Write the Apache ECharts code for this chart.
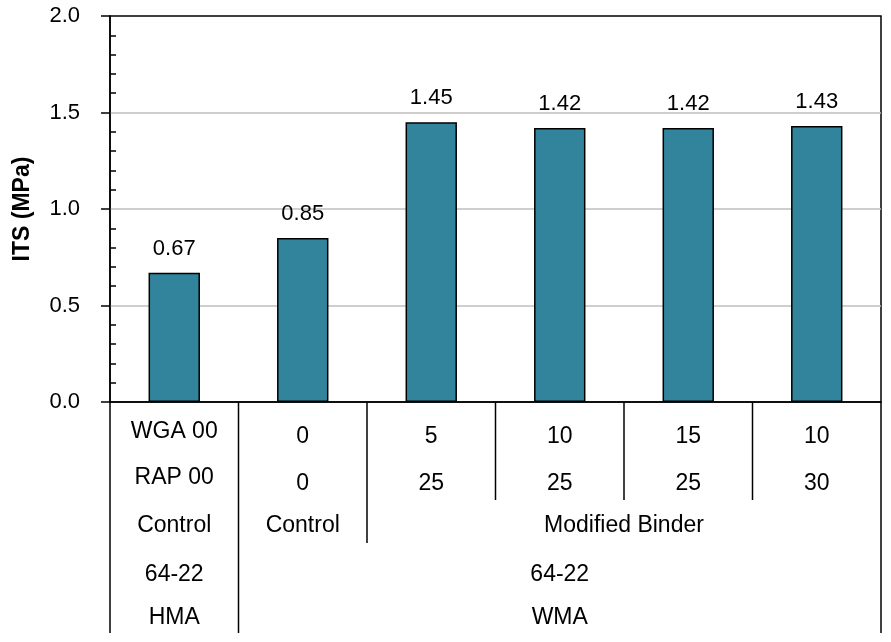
<!DOCTYPE html>
<html>
<head>
<meta charset="utf-8">
<script src="https://cdn.jsdelivr.net/npm/echarts@6/dist/echarts.min.js"></script>
<style>
html,body{margin:0;padding:0;background:#fff;}
#chart{width:891px;height:642px;}
</style>
</head>
<body>
<div id="chart"></div>
<script>
// ---- data ----
const categories = ['HMA Control', 'WMA Control', 'WGA5 RAP25', 'WGA10 RAP25', 'WGA15 RAP25', 'WGA10 RAP30'];
const itsValues = [0.67, 0.85, 1.45, 1.42, 1.42, 1.43];
const wgaLabels = ['WGA 00', '0', '5', '10', '15', '10'];
const rapLabels = ['RAP 00', '0', '25', '25', '25', '30'];
const binderGroups = [['Control', 0, 0], ['Control', 1, 1], ['Modified Binder', 2, 5]];
const gradeGroups = [['64-22', 0, 0], ['64-22', 1, 5]];
const mixGroups = [['HMA', 0, 0], ['WMA', 1, 5]];
const yMin = 0, yMax = 2, yInterval = 0.5;

const FONT = 'Liberation Sans, Arial, sans-serif';
const chart = echarts.init(document.getElementById('chart'), null, {renderer: 'canvas'});

const option = {
  animation: false,
  backgroundColor: '#fff',
  textStyle: {fontFamily: FONT},
  grid: {left: 110, right: 10, top: 16, bottom: 240, containLabel: false,
         show: true, borderColor: '#000', borderWidth: 1.5, backgroundColor: 'transparent'},
  xAxis: [{
    type: 'category', data: categories,
    axisLabel: {show: false}, axisTick: {show: false},
    axisLine: {show: true, lineStyle: {color: '#000', width: 1.5}}
  }],
  yAxis: [{
    type: 'value', min: yMin, max: yMax, interval: yInterval, position: 'left',
    name: 'ITS (MPa)', nameLocation: 'middle', nameGap: 76,
    nameTextStyle: {fontWeight: 'bold', fontSize: 23, color: '#000', fontFamily: FONT},
    axisLine: {show: true, lineStyle: {color: '#000', width: 1.5}},
    axisTick: {show: true, length: 9, lineStyle: {color: '#000', width: 1.5}},
    axisLabel: {formatter: v => v.toFixed(1), margin: 30, fontSize: 22, color: '#000', fontFamily: FONT},
    splitLine: {show: true, showMinLine: false, showMaxLine: false, lineStyle: {color: '#bfbfbf', width: 1.5}}
  }, {
    type: 'value', min: yMin, max: yMax, interval: yInterval, position: 'left',
    axisLine: {show: false}, axisTick: {show: false, inside: true},
    axisLabel: {show: false}, splitLine: {show: false},
    minorTick: {show: true, splitNumber: 5, length: 6, lineStyle: {color: '#000', width: 1.5}}
  }],
  series: [{
    type: 'bar', data: itsValues, barWidth: '40%',
    itemStyle: {color: '#31849b', borderColor: '#000', borderWidth: 1.5},
    label: {show: true, position: 'top', distance: 13, fontSize: 22, color: '#000',
            fontFamily: FONT, formatter: p => p.value.toFixed(2)}
  }]
};
chart.setOption(option);

// ---- category table below the axis, positioned from the axis scale ----
const cx = i => chart.convertToPixel({xAxisIndex: 0}, i);
const band = cx(1) - cx(0);
const leftEdge = i => cx(i) - band / 2;
const rightEdge = i => cx(i) + band / 2;
const y0 = chart.convertToPixel({yAxisIndex: 0}, 0);

const TS = 23;
const g = [];
function txt(t, x, y) {
  g.push({type: 'text', x: x, y: y, silent: true,
    style: {text: t, align: 'center', verticalAlign: 'middle', fontSize: TS, fontFamily: FONT, fill: '#000'}});
}
function vline(x, len) {
  g.push({type: 'line', silent: true, shape: {x1: x, y1: y0, x2: x, y2: y0 + len},
    style: {stroke: '#000', lineWidth: 1.5}});
}
categories.forEach((c, i) => {
  txt(wgaLabels[i], cx(i), y0 + (i === 0 ? 30 : 35));
  txt(rapLabels[i], cx(i), y0 + (i === 0 ? 76 : 82));
});
binderGroups.forEach(([t, a, b]) => txt(t, (leftEdge(a) + rightEdge(b)) / 2, y0 + 124));
gradeGroups.forEach(([t, a, b]) => txt(t, (leftEdge(a) + rightEdge(b)) / 2, y0 + 173));
mixGroups.forEach(([t, a, b]) => txt(t, (leftEdge(a) + rightEdge(b)) / 2, y0 + 216));

// boundary lines: full height where mix groups split, row-3 height where binder groups split, else rows 1-2
for (let k = 0; k <= categories.length; k++) {
  const x = k < categories.length ? leftEdge(k) : rightEdge(categories.length - 1);
  let len = 98;
  if (mixGroups.some(([t, a, b]) => a === k || b + 1 === k)) len = 231;
  else if (binderGroups.some(([t, a, b]) => a === k || b + 1 === k)) len = 141;
  vline(x, len);
}
chart.setOption({graphic: g});
</script>
</body>
</html>
